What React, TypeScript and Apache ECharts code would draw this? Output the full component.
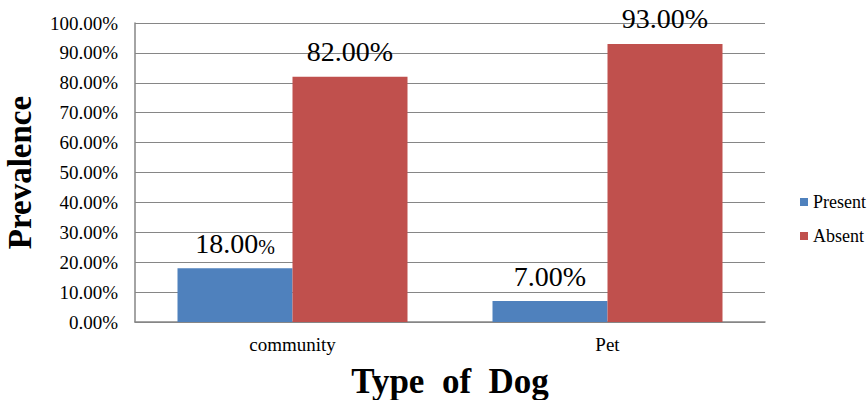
import React, { useEffect, useRef } from "react";
import * as echarts from "echarts";

const categories = ["community", "Pet"];
const presentValues = [18, 7];
const absentValues = [82, 93];
const seriesNames = ["Present", "Absent"];

export default function App() {
  const ref = useRef<HTMLDivElement>(null);
  useEffect(() => {
    if (!ref.current) return;
    const chart = echarts.init(ref.current, null, { renderer: "svg" });
    const serif = "Liberation Serif";
    const labelCommon = {
      show: true,
      position: "top" as const,
      distance: 11,
      fontFamily: serif,
      fontSize: 28,
      fontWeight: "normal",
      color: "#000",
    };
    chart.setOption({
      animation: false,
      textStyle: { fontFamily: serif },
      grid: { left: 135, right: 103, top: 23, bottom: 78, outerBoundsMode: "none", containLabel: false },
      legend: {
        orient: "vertical",
        left: 795,
        top: 188,
        itemWidth: 8,
        itemHeight: 8,
        itemGap: 16,
        icon: "rect",
        textStyle: { fontFamily: serif, fontSize: 18, fontWeight: "normal", color: "#000" },
        data: seriesNames,
      },
      xAxis: {
        type: "category",
        data: categories,
        name: "Type  of  Dog",
        nameLocation: "middle",
        nameGap: 42,
        nameTextStyle: { fontFamily: serif, fontSize: 35, fontWeight: "bold", color: "#000" },
        axisLine: { lineStyle: { color: "#868686", width: 1.5 } },
        axisTick: { show: false },
        axisLabel: { fontFamily: serif, fontSize: 19, fontWeight: "normal", color: "#000", margin: 13 },
      },
      yAxis: {
        type: "value",
        min: 0,
        max: 100,
        interval: 10,
        name: "Prevalence",
        nameLocation: "middle",
        nameGap: 99,
        nameTextStyle: { fontFamily: serif, fontSize: 33, fontWeight: "bold", color: "#000" },
        axisLine: { show: true, lineStyle: { color: "#868686", width: 1.5 } },
        axisTick: { show: false },
        splitLine: { lineStyle: { color: "#868686", width: 1.2 } },
        axisLabel: {
          fontFamily: serif,
          fontSize: 19,
          fontWeight: "normal",
          color: "#000",
          margin: 17,
          formatter: (v: number) => v.toFixed(2) + "%",
        },
      },
      series: [
        {
          name: seriesNames[0],
          type: "bar",
          data: presentValues,
          barWidth: 115,
          barGap: "0%",
          itemStyle: { color: "#4F81BD" },
          label: {
            ...labelCommon,
            formatter: (p: any) =>
              p.dataIndex === 0
                ? "{a|" + p.value.toFixed(2) + "}{b|%}"
                : "{a|" + p.value.toFixed(2) + "%}",
            rich: {
              a: { fontFamily: serif, fontSize: 28, color: "#000" },
              b: { fontFamily: serif, fontSize: 20, color: "#000", verticalAlign: "bottom" },
            },
          },
        },
        {
          name: seriesNames[1],
          type: "bar",
          data: absentValues,
          barWidth: 115,
          barGap: "0%",
          itemStyle: { color: "#C0504D" },
          label: {
            ...labelCommon,
            formatter: (p: any) => p.value.toFixed(2) + "%",
          },
        },
      ],
    });
    return () => chart.dispose();
  }, []);
  return <div ref={ref} style={{ width: 868, height: 400, position: "absolute", left: 0, top: 0 }} />;
}
